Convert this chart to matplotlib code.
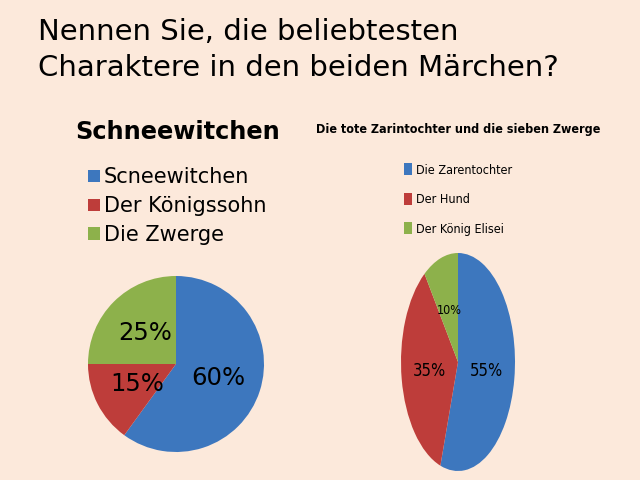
import matplotlib
matplotlib.use("Agg")
import matplotlib.pyplot as plt

# data
title_text = "Nennen Sie, die beliebtesten\nCharaktere in den beiden Märchen?"

left_title = "Schneewitchen"
left_labels = ["Scneewitchen", "Der Königssohn", "Die Zwerge"]
left_values = [60, 15, 25]

right_title = "Die tote Zarintochter und die sieben Zwerge"
right_labels = ["Die Zarentochter", "Der Hund", "Der König Elisei"]
right_values = [55, 35, 10]

colors = ["#3D77BE", "#BE3D3A", "#8DB14B"]
bg = "#FCE9DB"

# condensed face for the right chart
narrow = dict(family="DejaVu Sans", stretch="condensed")

W, H = 640, 480
fig = plt.figure(figsize=(6.4, 4.8), dpi=100, facecolor=bg)

def px_axes(x0, y0, x1, y1):
    # pixel box (top-left origin) -> figure axes
    return fig.add_axes([x0 / W, 1 - y1 / H, (x1 - x0) / W, (y1 - y0) / H])

fig.text(38 / W, 1 - 18 / H, title_text, fontsize=21, va="top", ha="left",
         linespacing=1.36, color="black")

# left pie
ax1 = px_axes(88, 276, 264, 452)
w1, t1, a1 = ax1.pie(left_values, colors=colors, startangle=90, counterclock=False,
                     autopct="%d%%", pctdistance=0.5, radius=1,
                     textprops=dict(fontsize=17.5, color="black"))
ax1.set_xlim(-1, 1)
ax1.set_ylim(-1, 1)
ax1.set_aspect("auto")
ax1.axis("off")

fig.text(178 / W, 1 - 132 / H, left_title, fontsize=17.3, fontweight="bold",
         ha="center", va="center")
fig.legend(w1, left_labels, loc="upper left", bbox_to_anchor=(78 / W, 1 - 157 / H),
           frameon=False, fontsize=15, handlelength=0.55, handleheight=0.55,
           handletextpad=0.2, labelspacing=0.42, borderpad=0)

# right pie (squeezed ellipse)
ax2 = px_axes(401, 253, 515, 471)
w2, t2, a2 = ax2.pie(right_values, colors=colors, startangle=90, counterclock=False,
                     autopct="%d%%", pctdistance=0.5, radius=1,
                     textprops=dict(fontsize=12, color="black", **narrow))
a2[2].set_fontsize(9)
ax2.set_xlim(-1, 1)
ax2.set_ylim(-1, 1)
ax2.set_aspect("auto")
ax2.axis("off")

fig.text(458 / W, 1 - 129 / H, right_title, fontsize=9, fontweight="bold",
         ha="center", va="center", **narrow)
fig.legend(w2, right_labels, loc="upper left", bbox_to_anchor=(398 / W, 1 - 157 / H),
           frameon=False, prop=dict(size=9, **narrow), handlelength=0.6,
           handleheight=1.1, handletextpad=0.3, labelspacing=1.3, borderpad=0)

plt.savefig("out.png", dpi=100, facecolor=bg)
